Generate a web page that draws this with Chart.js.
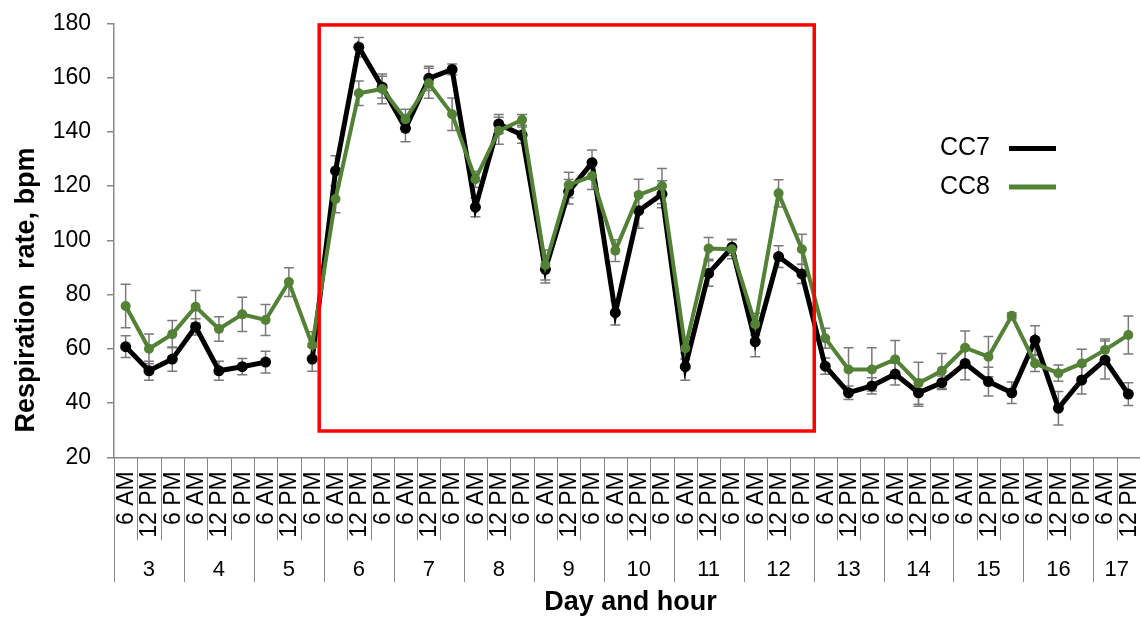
<!DOCTYPE html>
<html>
<head>
<meta charset="utf-8">
<script src="https://cdn.jsdelivr.net/npm/chart.js@4.4.1/dist/chart.umd.min.js"></script>
<style>
html,body{margin:0;padding:0;background:#fff;overflow:hidden;}
#wrap{width:1140px;height:617px;position:relative;}
</style>
</head>
<body>
<div id="wrap"><canvas id="c" width="1140" height="617"></canvas></div>
<script>
// ---- data ----
const dayLabels = ['3','4','5','6','7','8','9','10','11','12','13','14','15','16','17'];
const hourLabels = ['6 AM','12 PM','6 PM'];
const slotsPerDay = [3,3,3,3,3,3,3,3,3,3,3,3,3,3,2];

const cc7 = [60.8,51.9,56.2,68.1,51.9,53.4,55.1,null,56.2,
             125.6,171.2,156.5,141.3,159.7,163,112.2,142.9,138.8,
             89.3,117.9,128.6,73.3,110.9,117,53.4,87.8,97.4,
             62.6,94,87.6,53.6,43.8,46.3,50.7,43.8,47.5,
             54.6,47.9,43.8,63.2,38.1,48.5,55.9,43.3];
const cc7Err = [4,3.5,4.5,3,3.5,3,4,null,4.5,
                5.6,3.6,4,5,4.5,2,3.5,3.5,3,
                5,4.5,4.7,4.5,6.5,5,5,4.7,3,
                5.5,4,3.5,3,2.5,3,4,5,2.5,
                6,5.3,4,5.3,6.2,5.2,7,4.2];
const cc8 = [75.8,60.0,65.4,75.5,67.3,72.7,70.6,84.6,61.4,
             115.2,154.2,155.8,144.6,157.9,146.5,122.5,140.4,144.4,
             90.9,120.4,123.7,96.2,116.7,120,60.2,97,96.7,
             69.1,117.3,96.7,63.9,52.4,52.4,56.1,47.3,51.9,
             60.4,57.1,72.2,54.6,51,54.6,59.6,65.1];
const cc8Err = [8,5.5,5,6,4.5,6.3,5.7,5.3,4.9,
                5,4.5,5.5,3.7,5.5,6,3,5,2,
                5.5,4.7,5,4,5.8,6.5,4,4,3.5,
                4,5,5.5,3.7,8,8,7,7.7,6.4,
                6.2,7.4,1,3,3,5.2,4,7];
const yTicks = [20,40,60,80,100,120,140,160,180];
const yTitle = 'Respiration  rate, bpm';
const xTitle = 'Day and hour';

// highlighted window (in category index / value units)
const highlightBox = {xFrom: 8.3, xTo: 29.53, yFrom: 29.7, yTo: 179.4};

// ---- build categories ----
const catHour = [], catDay = [];
dayLabels.forEach((d, i) => {
  for (let k = 0; k < slotsPerDay[i]; k++) { catHour.push(hourLabels[k]); catDay.push(d); }
});
const categories = catHour.map((h, i) => catDay[i] + ' ' + h);

const GREEN = '#538135';
const AXIS = '#898989';
const FONT = '"Liberation Sans", Arial, sans-serif';

const errorBars = {
  id: 'errorBars',
  beforeDatasetsDraw(chart) {
    const ctx = chart.ctx, x = chart.scales.x, y = chart.scales.y;
    const sets = [[cc7, cc7Err], [cc8, cc8Err]];
    ctx.save();
    ctx.strokeStyle = '#7a7a7a';
    ctx.lineWidth = 1.5;
    sets.forEach(([vals, errs]) => {
      vals.forEach((v, i) => {
        if (v === null || errs[i] === null) return;
        const px = x.getPixelForValue(i);
        const t = y.getPixelForValue(v + errs[i]);
        const b = y.getPixelForValue(v - errs[i]);
        ctx.beginPath();
        ctx.moveTo(px, t); ctx.lineTo(px, b);
        ctx.moveTo(px - 5, t); ctx.lineTo(px + 5, t);
        ctx.moveTo(px - 5, b); ctx.lineTo(px + 5, b);
        ctx.stroke();
      });
    });
    ctx.restore();
  }
};

const decorations = {
  id: 'decorations',
  afterDraw(chart) {
    const ctx = chart.ctx, x = chart.scales.x, y = chart.scales.y;
    const area = chart.chartArea;
    ctx.save();
    // red highlight box
    ctx.strokeStyle = '#ff0000';
    ctx.lineWidth = 3.5;
    const bx1 = x.getPixelForValue(highlightBox.xFrom), bx2 = x.getPixelForValue(highlightBox.xTo);
    const by1 = y.getPixelForValue(highlightBox.yTo), by2 = y.getPixelForValue(highlightBox.yFrom);
    ctx.strokeRect(bx1, by1, bx2 - bx1, by2 - by1);

    // x-axis category labels
    const n = categories.length;
    const w = (x.getPixelForValue(1) - x.getPixelForValue(0));
    const axisY = area.bottom;
    ctx.strokeStyle = AXIS;
    ctx.lineWidth = 1;
    let idx = 0;
    const dayStarts = [];
    slotsPerDay.forEach(s => { dayStarts.push(idx); idx += s; });
    for (let i = 0; i <= n; i++) {
      const sx = Math.round(x.getPixelForValue(i) - w / 2) + 0.5;
      const isDay = dayStarts.includes(i) || i === n;
      ctx.beginPath();
      ctx.moveTo(sx, axisY);
      ctx.lineTo(sx, isDay ? axisY + 125 : axisY + 83);
      ctx.stroke();
    }
    ctx.fillStyle = '#000';
    ctx.font = '23px ' + FONT;
    ctx.textAlign = 'right';
    ctx.textBaseline = 'middle';
    for (let i = 0; i < n; i++) {
      const px = x.getPixelForValue(i);
      ctx.save();
      ctx.translate(px + 1, axisY + 14);
      ctx.rotate(-Math.PI / 2);
      ctx.fillText(catHour[i], 0, 0);
      ctx.restore();
    }
    ctx.font = '22px ' + FONT;
    ctx.textAlign = 'center';
    dayLabels.forEach((d, di) => {
      const a = dayStarts[di], b = a + slotsPerDay[di] - 1;
      const cx = (x.getPixelForValue(a) + x.getPixelForValue(b)) / 2;
      ctx.fillText(d, cx, axisY + 113);
    });

    // y-axis title
    ctx.save();
    ctx.font = 'bold 27px ' + FONT;
    ctx.textAlign = 'center';
    ctx.textBaseline = 'alphabetic';
    ctx.translate(34, 290);
    ctx.rotate(-Math.PI / 2);
    ctx.fillText(yTitle, 0, 0);
    ctx.restore();

    // x-axis title
    ctx.font = 'bold 27px ' + FONT;
    ctx.textAlign = 'center';
    ctx.textBaseline = 'alphabetic';
    ctx.fillText(xTitle, 630.5, 609.5);

    // legend
    const legendItems = [['CC7', '#000', 147.5], ['CC8', GREEN, 186]];
    ctx.font = '25px ' + FONT;
    ctx.textAlign = 'left';
    ctx.textBaseline = 'middle';
    legendItems.forEach(([txt, col, ly]) => {
      ctx.fillStyle = '#000';
      ctx.fillText(txt, 940, ly + 1);
      ctx.strokeStyle = col;
      ctx.lineWidth = 5;
      ctx.beginPath();
      ctx.moveTo(1009, ly + 1); ctx.lineTo(1056, ly + 1);
      ctx.stroke();
    });
    ctx.restore();
  }
};

new Chart(document.getElementById('c'), {
  type: 'line',
  data: {
    labels: categories,
    datasets: [
      {label: 'CC7', data: cc7, borderColor: '#000', backgroundColor: '#000',
       borderWidth: 5, pointRadius: 5.5, pointBorderWidth: 0, spanGaps: false, tension: 0, order: 2},
      {label: 'CC8', data: cc8, borderColor: GREEN, backgroundColor: GREEN,
       borderWidth: 4, pointRadius: 5, pointBorderWidth: 0, spanGaps: false, tension: 0, order: 1}
    ]
  },
  options: {
    responsive: false,
    animation: false,
    devicePixelRatio: 1,
    layout: {autoPadding: false, padding: {top: 23.3, right: -3.5, bottom: 0, left: 0}},
    plugins: {legend: {display: false}, tooltip: {enabled: false}},
    scales: {
      x: {
        type: 'category',
        offset: true,
        grid: {display: false},
        border: {display: true, color: AXIS, width: 1.5},
        ticks: {display: false},
        title: {display: false},
        afterFit(scale) { scale.height = 159.7; }
      },
      y: {
        min: 20, max: 180,
        afterBuildTicks(scale) { scale.ticks = yTicks.map(v => ({value: v})); },
        grid: {display: true, drawOnChartArea: false, drawTicks: true, tickLength: 7, color: AXIS, lineWidth: 1.5},
        border: {display: true, color: AXIS, width: 1.5},
        ticks: {color: '#000', padding: 16, font: {family: FONT, size: 23, lineHeight: 0.5}},
        title: {display: false},
        afterFit(scale) { scale.width = 114; }
      }
    }
  },
  plugins: [errorBars, decorations]
});
</script>
</body>
</html>
